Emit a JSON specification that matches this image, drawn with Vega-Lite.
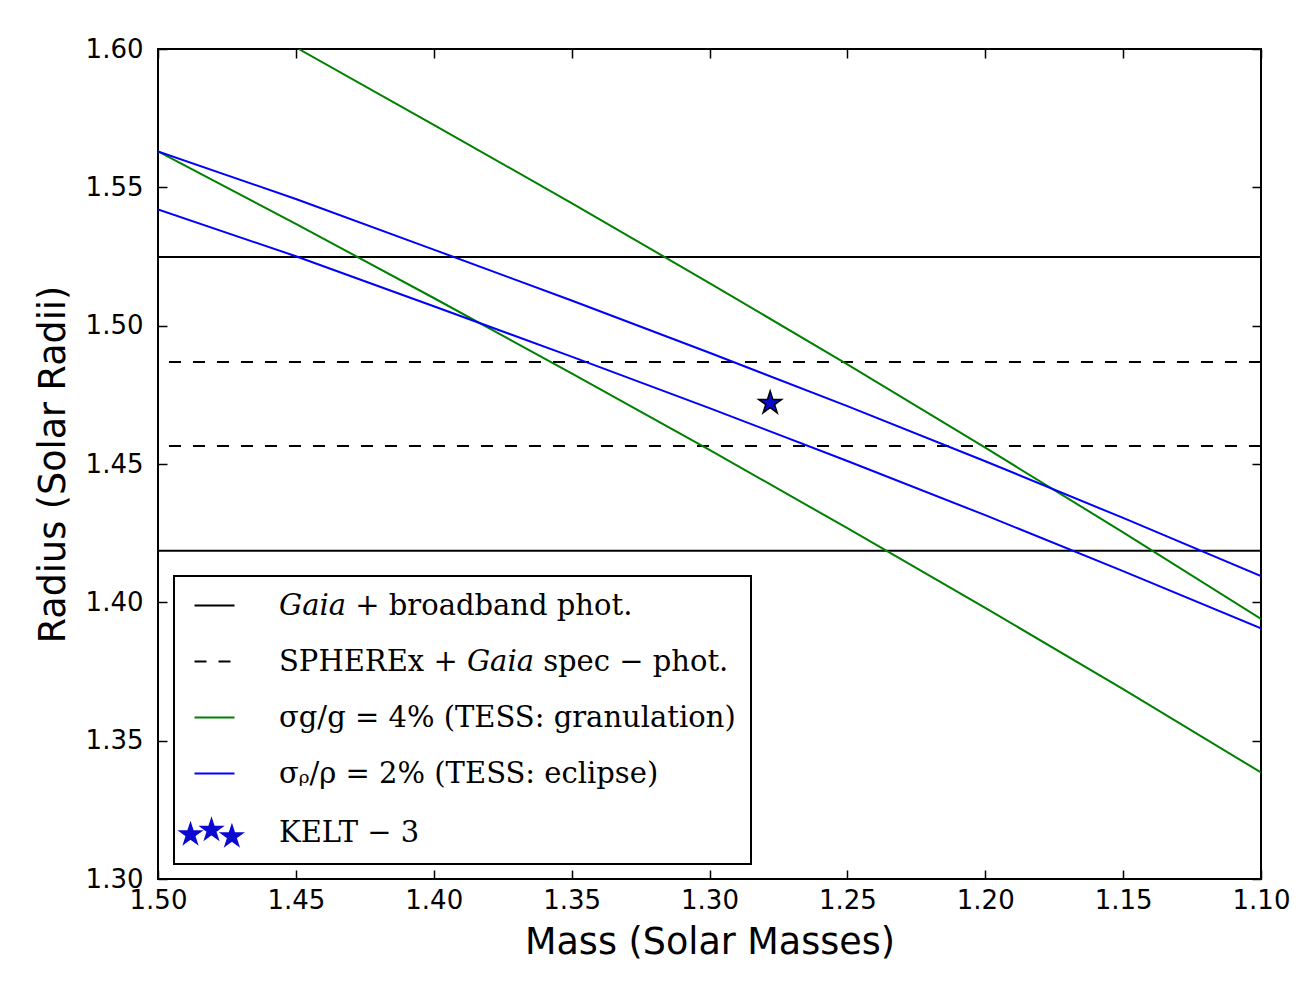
{
  "$schema": "https://vega.github.io/schema/vega-lite/v6.json",
  "width": 1103,
  "height": 830,
  "autosize": {"type": "none"},
  "padding": {"left": 158, "top": 49, "right": 55, "bottom": 112},
  "background": "white",
  "config": {
    "view": {"stroke": "black", "strokeWidth": 2},
    "axis": {
      "grid": false,
      "domain": false,
      "tickColor": "black",
      "tickWidth": 1.5,
      "tickSize": -9,
      "labelFont": "DejaVu Sans",
      "labelFontSize": 26,
      "labelColor": "black",
      "labelFlush": false,
      "labelOverlap": false,
      "titleFont": "DejaVu Sans",
      "titleFontSize": 36.5,
      "titleFontWeight": "normal",
      "titleColor": "black"
    },
    "legend": {
      "orient": "none",
      "legendX": 16,
      "legendY": 527,
      "strokeColor": "black",
      "fillColor": "white",
      "strokeWidth": 2,
      "padding": 15,
      "cornerRadius": 0,
      "labelFont": "DejaVu Serif",
      "labelFontSize": 29,
      "labelColor": "black",
      "labelLimit": 0,
      "labelOffset": 50,
      "symbolOffset": 11,
      "rowPadding": 26,
      "symbolSize": 1600
    }
  },
  "datasets": {
    "solidBands": [
      {"series": "𝐺𝑎𝑖𝑎 + broadband phot.", "R": 1.5248},
      {"series": "𝐺𝑎𝑖𝑎 + broadband phot.", "R": 1.4186}
    ],
    "dashedBands": [
      {"series": "SPHEREx + 𝐺𝑎𝑖𝑎 spec − phot.", "R": 1.4869},
      {"series": "SPHEREx + 𝐺𝑎𝑖𝑎 spec − phot.", "R": 1.4565}
    ],
    "curves": [
      {"series": "σg/g = 4% (TESS: granulation)", "curve": "g_hi", "M": 1.449, "R": 1.600},
      {"series": "σg/g = 4% (TESS: granulation)", "curve": "g_hi", "M": 1.40, "R": 1.5726},
      {"series": "σg/g = 4% (TESS: granulation)", "curve": "g_hi", "M": 1.35, "R": 1.5443},
      {"series": "σg/g = 4% (TESS: granulation)", "curve": "g_hi", "M": 1.30, "R": 1.5154},
      {"series": "σg/g = 4% (TESS: granulation)", "curve": "g_hi", "M": 1.25, "R": 1.4860},
      {"series": "σg/g = 4% (TESS: granulation)", "curve": "g_hi", "M": 1.20, "R": 1.4559},
      {"series": "σg/g = 4% (TESS: granulation)", "curve": "g_hi", "M": 1.15, "R": 1.4253},
      {"series": "σg/g = 4% (TESS: granulation)", "curve": "g_hi", "M": 1.10, "R": 1.3940},
      {"series": "σg/g = 4% (TESS: granulation)", "curve": "g_lo", "M": 1.50, "R": 1.5630},
      {"series": "σg/g = 4% (TESS: granulation)", "curve": "g_lo", "M": 1.45, "R": 1.5368},
      {"series": "σg/g = 4% (TESS: granulation)", "curve": "g_lo", "M": 1.40, "R": 1.5100},
      {"series": "σg/g = 4% (TESS: granulation)", "curve": "g_lo", "M": 1.35, "R": 1.4828},
      {"series": "σg/g = 4% (TESS: granulation)", "curve": "g_lo", "M": 1.30, "R": 1.4551},
      {"series": "σg/g = 4% (TESS: granulation)", "curve": "g_lo", "M": 1.25, "R": 1.4268},
      {"series": "σg/g = 4% (TESS: granulation)", "curve": "g_lo", "M": 1.20, "R": 1.3980},
      {"series": "σg/g = 4% (TESS: granulation)", "curve": "g_lo", "M": 1.15, "R": 1.3686},
      {"series": "σg/g = 4% (TESS: granulation)", "curve": "g_lo", "M": 1.10, "R": 1.3385},
      {"series": "σᵨ/ρ = 2% (TESS: eclipse)", "curve": "rho_hi", "M": 1.50, "R": 1.5630},
      {"series": "σᵨ/ρ = 2% (TESS: eclipse)", "curve": "rho_hi", "M": 1.45, "R": 1.5458},
      {"series": "σᵨ/ρ = 2% (TESS: eclipse)", "curve": "rho_hi", "M": 1.40, "R": 1.5275},
      {"series": "σᵨ/ρ = 2% (TESS: eclipse)", "curve": "rho_hi", "M": 1.35, "R": 1.5091},
      {"series": "σᵨ/ρ = 2% (TESS: eclipse)", "curve": "rho_hi", "M": 1.30, "R": 1.4902},
      {"series": "σᵨ/ρ = 2% (TESS: eclipse)", "curve": "rho_hi", "M": 1.25, "R": 1.4709},
      {"series": "σᵨ/ρ = 2% (TESS: eclipse)", "curve": "rho_hi", "M": 1.20, "R": 1.4510},
      {"series": "σᵨ/ρ = 2% (TESS: eclipse)", "curve": "rho_hi", "M": 1.15, "R": 1.4305},
      {"series": "σᵨ/ρ = 2% (TESS: eclipse)", "curve": "rho_hi", "M": 1.10, "R": 1.4095},
      {"series": "σᵨ/ρ = 2% (TESS: eclipse)", "curve": "rho_lo", "M": 1.50, "R": 1.5420},
      {"series": "σᵨ/ρ = 2% (TESS: eclipse)", "curve": "rho_lo", "M": 1.45, "R": 1.5251},
      {"series": "σᵨ/ρ = 2% (TESS: eclipse)", "curve": "rho_lo", "M": 1.40, "R": 1.5070},
      {"series": "σᵨ/ρ = 2% (TESS: eclipse)", "curve": "rho_lo", "M": 1.35, "R": 1.4888},
      {"series": "σᵨ/ρ = 2% (TESS: eclipse)", "curve": "rho_lo", "M": 1.30, "R": 1.4702},
      {"series": "σᵨ/ρ = 2% (TESS: eclipse)", "curve": "rho_lo", "M": 1.25, "R": 1.4511},
      {"series": "σᵨ/ρ = 2% (TESS: eclipse)", "curve": "rho_lo", "M": 1.20, "R": 1.4315},
      {"series": "σᵨ/ρ = 2% (TESS: eclipse)", "curve": "rho_lo", "M": 1.15, "R": 1.4113},
      {"series": "σᵨ/ρ = 2% (TESS: eclipse)", "curve": "rho_lo", "M": 1.10, "R": 1.3906}
    ],
    "kelt": [
      {"series": "KELT − 3", "M": 1.278, "R": 1.472}
    ]
  },
  "resolve": {"axis": {"x": "independent", "y": "independent"}},
  "layer": [
    {
      "data": {"name": "solidBands"},
      "mark": {"type": "rule", "strokeWidth": 2},
      "encoding": {
        "y": {"field": "R", "type": "quantitative", "scale": {"domain": [1.3, 1.6], "zero": false, "nice": false}, "axis": null},
        "color": {"field": "series", "type": "nominal"}
      }
    },
    {
      "data": {"name": "dashedBands"},
      "mark": {"type": "rule", "strokeWidth": 2, "strokeDash": [12, 12]},
      "encoding": {
        "y": {"field": "R", "type": "quantitative", "axis": null},
        "color": {"field": "series", "type": "nominal"}
      }
    },
    {
      "data": {"name": "curves"},
      "mark": {"type": "line", "strokeWidth": 2, "clip": true},
      "encoding": {
        "x": {
          "field": "M", "type": "quantitative",
          "scale": {"domain": [1.1, 1.5], "reverse": true, "zero": false, "nice": false},
          "axis": {"orient": "bottom", "values": [1.5, 1.45, 1.4, 1.35, 1.3, 1.25, 1.2, 1.15, 1.1], "format": ".2f", "title": "Mass (Solar Masses)", "labelPadding": 17, "titlePadding": 11}
        },
        "y": {
          "field": "R", "type": "quantitative",
          "axis": {"orient": "left", "values": [1.3, 1.35, 1.4, 1.45, 1.5, 1.55, 1.6], "format": ".2f", "title": "Radius (Solar Radii)", "labelPadding": 24, "titlePadding": 13}
        },
        "color": {
          "field": "series", "type": "nominal",
          "scale": {
            "domain": ["𝐺𝑎𝑖𝑎 + broadband phot.", "SPHEREx + 𝐺𝑎𝑖𝑎 spec − phot.", "σg/g = 4% (TESS: granulation)", "σᵨ/ρ = 2% (TESS: eclipse)", "KELT − 3"],
            "range": ["black", "black", "#008000", "#0000ff", "#0a0ad0"]
          },
          "legend": {
            "title": null,
            "encode": {
              "symbols": {
                "update": {
                  "shape": {"signal": "datum.index === 4 ? 'M-1.2,-0.47L-1.072,-0.076L-0.658,-0.076L-0.993,0.167L-0.865,0.561L-1.2,0.318L-1.535,0.561L-1.407,0.167L-1.742,-0.076L-1.328,-0.076ZM-0.15,-0.69L-0.022,-0.296L0.392,-0.296L0.057,-0.053L0.185,0.341L-0.15,0.098L-0.485,0.341L-0.357,-0.053L-0.692,-0.296L-0.278,-0.296ZM0.87,-0.37L0.998,0.024L1.412,0.024L1.077,0.267L1.205,0.661L0.87,0.418L0.535,0.661L0.663,0.267L0.328,0.024L0.742,0.024Z' : 'stroke'"},
                  "fill": {"signal": "datum.index === 4 ? '#0a0ad0' : 'transparent'"},
                  "stroke": {"signal": "datum.index === 2 ? '#008000' : datum.index === 3 ? '#0000ff' : 'black'"},
                  "strokeWidth": {"signal": "datum.index === 4 ? 1.5 : 2"},
                  "strokeDash": {"signal": "datum.index === 1 ? [12, 12] : [1, 0]"},
                  "size": {"value": 1600},
                  "opacity": {"value": 1}
                }
              }
            }
          }
        },
        "detail": {"field": "curve", "type": "nominal"}
      }
    },
    {
      "data": {"name": "kelt"},
      "mark": {
        "type": "point",
        "filled": true,
        "shape": "M0,-1L0.2245,-0.309L0.9511,-0.309L0.3633,0.118L0.5878,0.809L0,0.382L-0.5878,0.809L-0.3633,0.118L-0.9511,-0.309L-0.2245,-0.309Z",
        "size": 585,
        "stroke": "black",
        "strokeWidth": 1.5,
        "opacity": 1
      },
      "encoding": {
        "x": {"field": "M", "type": "quantitative", "axis": {"orient": "top", "values": [1.5, 1.45, 1.4, 1.35, 1.3, 1.25, 1.2, 1.15, 1.1], "labels": false, "title": null}},
        "y": {"field": "R", "type": "quantitative", "axis": {"orient": "right", "values": [1.3, 1.35, 1.4, 1.45, 1.5, 1.55, 1.6], "labels": false, "title": null}},
        "color": {"field": "series", "type": "nominal"}
      }
    }
  ]
}
